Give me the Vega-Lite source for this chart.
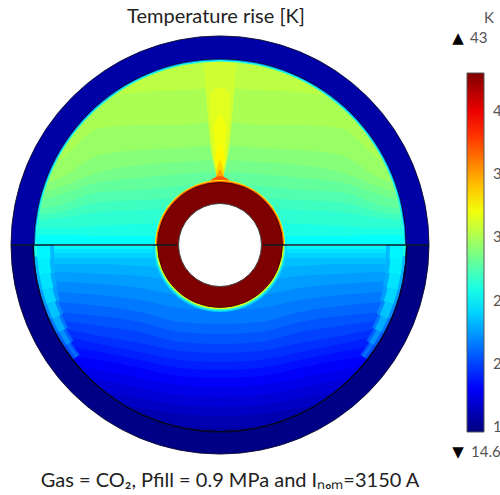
{"$schema":"https://vega.github.io/schema/vega-lite/v6.json","width":500,"height":495,"padding":0,"autosize":"none","background":"white","config":{"view":{"stroke":null},"legend":{"orient":"none"}},
"datasets":{
"up":[
{"v":25.3,"x":20,"y":245},{"v":25.3,"x":420,"y":245},
{"v":26,"x":20,"y":235},{"v":26,"x":60,"y":235},{"v":26,"x":100,"y":236},{"v":26,"x":140,"y":236},{"v":26,"x":180,"y":236},{"v":26,"x":220,"y":236},{"v":26,"x":260,"y":236},{"v":26,"x":300,"y":236},{"v":26,"x":340,"y":236},{"v":26,"x":380,"y":235},{"v":26,"x":420,"y":235},
{"v":26.5,"x":20,"y":228},{"v":26.5,"x":60,"y":228},{"v":26.5,"x":100,"y":226},{"v":26.5,"x":140,"y":224},{"v":26.5,"x":180,"y":222},{"v":26.5,"x":220,"y":222},{"v":26.5,"x":260,"y":222},{"v":26.5,"x":300,"y":224},{"v":26.5,"x":340,"y":226},{"v":26.5,"x":380,"y":228},{"v":26.5,"x":420,"y":228},
{"v":27,"x":20,"y":222},{"v":27,"x":60,"y":218},{"v":27,"x":100,"y":212},{"v":27,"x":140,"y":210},{"v":27,"x":180,"y":208},{"v":27,"x":220,"y":205},{"v":27,"x":260,"y":208},{"v":27,"x":300,"y":210},{"v":27,"x":340,"y":212},{"v":27,"x":380,"y":218},{"v":27,"x":420,"y":222},
{"v":27.5,"x":20,"y":217},{"v":27.5,"x":60,"y":212},{"v":27.5,"x":100,"y":202},{"v":27.5,"x":140,"y":200},{"v":27.5,"x":180,"y":198},{"v":27.5,"x":220,"y":195},{"v":27.5,"x":260,"y":198},{"v":27.5,"x":300,"y":200},{"v":27.5,"x":340,"y":202},{"v":27.5,"x":380,"y":212},{"v":27.5,"x":420,"y":217},
{"v":28,"x":20,"y":212},{"v":28,"x":60,"y":205},{"v":28,"x":100,"y":192},{"v":28,"x":140,"y":190},{"v":28,"x":180,"y":186},{"v":28,"x":220,"y":184},{"v":28,"x":260,"y":186},{"v":28,"x":300,"y":190},{"v":28,"x":340,"y":192},{"v":28,"x":380,"y":205},{"v":28,"x":420,"y":212},
{"v":28.5,"x":20,"y":207},{"v":28.5,"x":60,"y":195},{"v":28.5,"x":100,"y":182},{"v":28.5,"x":140,"y":178},{"v":28.5,"x":180,"y":174},{"v":28.5,"x":220,"y":172},{"v":28.5,"x":260,"y":174},{"v":28.5,"x":300,"y":178},{"v":28.5,"x":340,"y":182},{"v":28.5,"x":380,"y":195},{"v":28.5,"x":420,"y":207},
{"v":29,"x":20,"y":200},{"v":29,"x":60,"y":187},{"v":29,"x":100,"y":172},{"v":29,"x":140,"y":165},{"v":29,"x":180,"y":162},{"v":29,"x":220,"y":160},{"v":29,"x":260,"y":162},{"v":29,"x":300,"y":165},{"v":29,"x":340,"y":172},{"v":29,"x":380,"y":187},{"v":29,"x":420,"y":200},
{"v":29.5,"x":20,"y":190},{"v":29.5,"x":60,"y":178},{"v":29.5,"x":100,"y":155},{"v":29.5,"x":140,"y":150},{"v":29.5,"x":180,"y":148},{"v":29.5,"x":220,"y":145},{"v":29.5,"x":260,"y":148},{"v":29.5,"x":300,"y":150},{"v":29.5,"x":340,"y":155},{"v":29.5,"x":380,"y":178},{"v":29.5,"x":420,"y":190},
{"v":30,"x":20,"y":178},{"v":30,"x":60,"y":160},{"v":30,"x":100,"y":128},{"v":30,"x":140,"y":125},{"v":30,"x":180,"y":125},{"v":30,"x":220,"y":122},{"v":30,"x":260,"y":125},{"v":30,"x":300,"y":125},{"v":30,"x":340,"y":128},{"v":30,"x":380,"y":160},{"v":30,"x":420,"y":178},
{"v":30.5,"x":20,"y":160},{"v":30.5,"x":60,"y":125},{"v":30.5,"x":100,"y":100},{"v":30.5,"x":140,"y":92},{"v":30.5,"x":180,"y":90},{"v":30.5,"x":220,"y":88},{"v":30.5,"x":260,"y":90},{"v":30.5,"x":300,"y":92},{"v":30.5,"x":340,"y":100},{"v":30.5,"x":380,"y":125},{"v":30.5,"x":420,"y":160},
{"v":30.8,"x":20,"y":130},{"v":30.8,"x":60,"y":90},{"v":30.8,"x":100,"y":70},{"v":30.8,"x":140,"y":65},{"v":30.8,"x":180,"y":62},{"v":30.8,"x":220,"y":62},{"v":30.8,"x":260,"y":62},{"v":30.8,"x":300,"y":65},{"v":30.8,"x":340,"y":70},{"v":30.8,"x":380,"y":90},{"v":30.8,"x":420,"y":130}
],
"lo":[
{"v":25,"x":20,"y":246},{"v":25,"x":420,"y":246},
{"v":24.5,"x":20,"y":249},{"v":24.5,"x":420,"y":249},
{"v":24,"x":20,"y":253},{"v":24,"x":420,"y":253},
{"v":23.5,"x":20,"y":258},{"v":23.5,"x":420,"y":258},
{"v":23,"x":20,"y":264},{"v":23,"x":60,"y":264},{"v":23,"x":100,"y":264},{"v":23,"x":140,"y":266},{"v":23,"x":180,"y":268},{"v":23,"x":220,"y":268},{"v":23,"x":260,"y":268},{"v":23,"x":300,"y":266},{"v":23,"x":340,"y":264},{"v":23,"x":380,"y":264},{"v":23,"x":420,"y":264},
{"v":22.5,"x":20,"y":272},{"v":22.5,"x":60,"y":272},{"v":22.5,"x":100,"y":274},{"v":22.5,"x":140,"y":276},{"v":22.5,"x":180,"y":280},{"v":22.5,"x":220,"y":280},{"v":22.5,"x":260,"y":280},{"v":22.5,"x":300,"y":276},{"v":22.5,"x":340,"y":274},{"v":22.5,"x":380,"y":272},{"v":22.5,"x":420,"y":272},
{"v":22,"x":20,"y":280},{"v":22,"x":60,"y":282},{"v":22,"x":100,"y":284},{"v":22,"x":140,"y":288},{"v":22,"x":180,"y":295},{"v":22,"x":220,"y":296},{"v":22,"x":260,"y":295},{"v":22,"x":300,"y":288},{"v":22,"x":340,"y":284},{"v":22,"x":380,"y":282},{"v":22,"x":420,"y":280},
{"v":21.5,"x":20,"y":288},{"v":21.5,"x":60,"y":292},{"v":21.5,"x":100,"y":295},{"v":21.5,"x":140,"y":300},{"v":21.5,"x":180,"y":308},{"v":21.5,"x":220,"y":310},{"v":21.5,"x":260,"y":308},{"v":21.5,"x":300,"y":300},{"v":21.5,"x":340,"y":295},{"v":21.5,"x":380,"y":292},{"v":21.5,"x":420,"y":288},
{"v":21,"x":20,"y":296},{"v":21,"x":60,"y":302},{"v":21,"x":100,"y":306},{"v":21,"x":140,"y":312},{"v":21,"x":180,"y":322},{"v":21,"x":220,"y":324},{"v":21,"x":260,"y":322},{"v":21,"x":300,"y":312},{"v":21,"x":340,"y":306},{"v":21,"x":380,"y":302},{"v":21,"x":420,"y":296},
{"v":20.5,"x":20,"y":304},{"v":20.5,"x":60,"y":312},{"v":20.5,"x":100,"y":316},{"v":20.5,"x":140,"y":322},{"v":20.5,"x":180,"y":332},{"v":20.5,"x":220,"y":334},{"v":20.5,"x":260,"y":332},{"v":20.5,"x":300,"y":322},{"v":20.5,"x":340,"y":316},{"v":20.5,"x":380,"y":312},{"v":20.5,"x":420,"y":304},
{"v":20,"x":20,"y":312},{"v":20,"x":60,"y":320},{"v":20,"x":100,"y":326},{"v":20,"x":140,"y":332},{"v":20,"x":180,"y":342},{"v":20,"x":220,"y":344},{"v":20,"x":260,"y":342},{"v":20,"x":300,"y":332},{"v":20,"x":340,"y":326},{"v":20,"x":380,"y":320},{"v":20,"x":420,"y":312},
{"v":19.5,"x":20,"y":320},{"v":19.5,"x":60,"y":328},{"v":19.5,"x":100,"y":336},{"v":19.5,"x":140,"y":343},{"v":19.5,"x":180,"y":351},{"v":19.5,"x":220,"y":353},{"v":19.5,"x":260,"y":351},{"v":19.5,"x":300,"y":343},{"v":19.5,"x":340,"y":336},{"v":19.5,"x":380,"y":328},{"v":19.5,"x":420,"y":320},
{"v":19,"x":20,"y":330},{"v":19,"x":60,"y":336},{"v":19,"x":100,"y":344},{"v":19,"x":140,"y":352},{"v":19,"x":180,"y":360},{"v":19,"x":220,"y":362},{"v":19,"x":260,"y":360},{"v":19,"x":300,"y":352},{"v":19,"x":340,"y":344},{"v":19,"x":380,"y":336},{"v":19,"x":420,"y":330},
{"v":18.5,"x":20,"y":340},{"v":18.5,"x":60,"y":345},{"v":18.5,"x":100,"y":352},{"v":18.5,"x":140,"y":360},{"v":18.5,"x":180,"y":368},{"v":18.5,"x":220,"y":370},{"v":18.5,"x":260,"y":368},{"v":18.5,"x":300,"y":360},{"v":18.5,"x":340,"y":352},{"v":18.5,"x":380,"y":345},{"v":18.5,"x":420,"y":340},
{"v":18,"x":20,"y":350},{"v":18,"x":60,"y":355},{"v":18,"x":100,"y":360},{"v":18,"x":140,"y":368},{"v":18,"x":180,"y":376},{"v":18,"x":220,"y":378},{"v":18,"x":260,"y":376},{"v":18,"x":300,"y":368},{"v":18,"x":340,"y":360},{"v":18,"x":380,"y":355},{"v":18,"x":420,"y":350},
{"v":17.5,"x":20,"y":360},{"v":17.5,"x":60,"y":365},{"v":17.5,"x":100,"y":370},{"v":17.5,"x":140,"y":378},{"v":17.5,"x":180,"y":385},{"v":17.5,"x":220,"y":387},{"v":17.5,"x":260,"y":385},{"v":17.5,"x":300,"y":378},{"v":17.5,"x":340,"y":370},{"v":17.5,"x":380,"y":365},{"v":17.5,"x":420,"y":360},
{"v":17,"x":20,"y":370},{"v":17,"x":60,"y":375},{"v":17,"x":100,"y":380},{"v":17,"x":140,"y":388},{"v":17,"x":180,"y":395},{"v":17,"x":220,"y":397},{"v":17,"x":260,"y":395},{"v":17,"x":300,"y":388},{"v":17,"x":340,"y":380},{"v":17,"x":380,"y":375},{"v":17,"x":420,"y":370},
{"v":16.5,"x":20,"y":380},{"v":16.5,"x":60,"y":386},{"v":16.5,"x":100,"y":392},{"v":16.5,"x":140,"y":398},{"v":16.5,"x":180,"y":405},{"v":16.5,"x":220,"y":407},{"v":16.5,"x":260,"y":405},{"v":16.5,"x":300,"y":398},{"v":16.5,"x":340,"y":392},{"v":16.5,"x":380,"y":386},{"v":16.5,"x":420,"y":380},
{"v":16,"x":20,"y":392},{"v":16,"x":60,"y":398},{"v":16,"x":100,"y":403},{"v":16,"x":140,"y":408},{"v":16,"x":180,"y":414},{"v":16,"x":220,"y":416},{"v":16,"x":260,"y":414},{"v":16,"x":300,"y":408},{"v":16,"x":340,"y":403},{"v":16,"x":380,"y":398},{"v":16,"x":420,"y":392},
{"v":15.5,"x":20,"y":404},{"v":15.5,"x":60,"y":410},{"v":15.5,"x":100,"y":415},{"v":15.5,"x":140,"y":420},{"v":15.5,"x":180,"y":426},{"v":15.5,"x":220,"y":428},{"v":15.5,"x":260,"y":426},{"v":15.5,"x":300,"y":420},{"v":15.5,"x":340,"y":415},{"v":15.5,"x":380,"y":410},{"v":15.5,"x":420,"y":404}
],
"plume":[
{"v":31,"x":204,"y":62,"b":64},{"v":31,"x":210,"y":62,"b":140},{"v":31,"x":214,"y":62,"b":165},{"v":31,"x":220,"y":62,"b":180},{"v":31,"x":226,"y":62,"b":165},{"v":31,"x":230,"y":62,"b":140},{"v":31,"x":236,"y":62,"b":64},
{"v":31.5,"x":210,"y":95,"b":100},{"v":31.5,"x":214,"y":90,"b":160},{"v":31.5,"x":220,"y":88,"b":178},{"v":31.5,"x":226,"y":90,"b":160},{"v":31.5,"x":230,"y":95,"b":100},
{"v":32,"x":214,"y":125,"b":128},{"v":32,"x":217,"y":118,"b":165},{"v":32,"x":220,"y":115,"b":176},{"v":32,"x":223,"y":118,"b":165},{"v":32,"x":226,"y":125,"b":128},
{"v":32.5,"x":215,"y":158,"b":160},{"v":32.5,"x":218,"y":148,"b":172},{"v":32.5,"x":220,"y":145,"b":178},{"v":32.5,"x":222,"y":148,"b":172},{"v":32.5,"x":225,"y":158,"b":160},
{"v":33.5,"x":216,"y":172,"b":174},{"v":33.5,"x":218,"y":165,"b":178},{"v":33.5,"x":220,"y":160,"b":180},{"v":33.5,"x":222,"y":165,"b":178},{"v":33.5,"x":224,"y":172,"b":174},
{"v":35,"x":214,"y":180,"b":182},{"v":35,"x":217,"y":175,"b":183},{"v":35,"x":220,"y":170,"b":183},{"v":35,"x":223,"y":175,"b":183},{"v":35,"x":226,"y":180,"b":182},
{"v":37,"x":206,"y":184,"b":186},{"v":37,"x":214,"y":178,"b":186},{"v":37,"x":220,"y":176,"b":186},{"v":37,"x":226,"y":178,"b":186},{"v":37,"x":234,"y":184,"b":186}
],
"arcs":[
{"v":26,"a":-1.5708,"b":1.5708,"r":186,"s":183.5},
{"v":21,"a":-1.5708,"b":1.5708,"r":186,"s":185},
{"v":23.4,"a":4.629,"b":4.712,"r":186,"s":166},{"v":23.2,"a":4.546,"b":4.629,"r":186,"s":167},{"v":22.9,"a":4.463,"b":4.546,"r":186,"s":168},{"v":22.5,"a":4.381,"b":4.463,"r":186,"s":169},{"v":22,"a":4.298,"b":4.381,"r":186,"s":171},{"v":21.4,"a":4.215,"b":4.298,"r":186,"s":173},{"v":20.8,"a":4.133,"b":4.215,"r":186,"s":175},{"v":20.3,"a":4.05,"b":4.133,"r":186,"s":178},
{"v":23.4,"a":1.571,"b":1.654,"r":186,"s":166},{"v":23.2,"a":1.654,"b":1.737,"r":186,"s":167},{"v":22.9,"a":1.737,"b":1.82,"r":186,"s":168},{"v":22.5,"a":1.82,"b":1.902,"r":186,"s":169},{"v":22,"a":1.902,"b":1.985,"r":186,"s":171},{"v":21.4,"a":1.985,"b":2.068,"r":186,"s":173},{"v":20.8,"a":2.068,"b":2.15,"r":186,"s":175},{"v":20.3,"a":2.15,"b":2.233,"r":186,"s":178},
{"v":25,"a":4.629,"b":4.712,"r":183,"s":170},{"v":24.8,"a":4.546,"b":4.629,"r":183,"s":171},{"v":24.5,"a":4.463,"b":4.546,"r":183,"s":172},{"v":24.1,"a":4.381,"b":4.463,"r":183,"s":173},{"v":23.6,"a":4.298,"b":4.381,"r":183,"s":174.5},{"v":23,"a":4.215,"b":4.298,"r":183,"s":176},{"v":22.2,"a":4.133,"b":4.215,"r":183,"s":178},{"v":21.2,"a":4.05,"b":4.133,"r":183,"s":180},
{"v":25,"a":1.571,"b":1.654,"r":183,"s":170},{"v":24.8,"a":1.654,"b":1.737,"r":183,"s":171},{"v":24.5,"a":1.737,"b":1.82,"r":183,"s":172},{"v":24.1,"a":1.82,"b":1.902,"r":183,"s":173},{"v":23.6,"a":1.902,"b":1.985,"r":183,"s":174.5},{"v":23,"a":1.985,"b":2.068,"r":183,"s":176},{"v":22.2,"a":2.068,"b":2.15,"r":183,"s":178},{"v":21.2,"a":2.15,"b":2.233,"r":183,"s":180},
{"v":26,"a":4.65,"b":4.712,"r":186,"s":183},{"v":26,"a":1.571,"b":1.63,"r":186,"s":183},
{"v":24,"a":1.5708,"b":4.7124,"r":67,"s":0},{"v":27,"a":1.5708,"b":4.7124,"r":65.5,"s":0},{"v":32,"a":1.5708,"b":4.7124,"r":64,"s":0},
{"v":33,"a":-1.5708,"b":1.5708,"r":65,"s":0},{"v":37,"a":-1.5708,"b":1.5708,"r":64,"s":0},
{"v":43,"a":0,"b":6.2832,"r":62.5,"s":0}
],
"ring":[
{"v":15.7,"a":-1.5708,"b":1.5708,"r":209,"s":186},
{"v":14.8,"a":1.5708,"b":4.7124,"r":209,"s":186}
],
"edge":[{"a":1.5708,"b":4.7124,"r":187.5,"s":186},{"a":-1.5708,"b":1.5708,"r":186.5,"s":185.7}],
"centre":[{"cx":220,"cy":245}],
"lines":[{"x":11,"x2":177},{"x":263,"x2":429}],
"ticks":[
{"x":467,"x2":470,"y":111},{"x":481,"x2":484,"y":111},{"x":467,"x2":470,"y":173},{"x":481,"x2":484,"y":173},{"x":467,"x2":470,"y":237},{"x":481,"x2":484,"y":237},{"x":467,"x2":470,"y":300},{"x":481,"x2":484,"y":300},{"x":467,"x2":470,"y":363},{"x":481,"x2":484,"y":363},{"x":467,"x2":470,"y":427},{"x":481,"x2":484,"y":427}
],
"labels":[
{"x":484,"y":18,"t":"K"},{"x":470,"y":38,"t":"43"},{"x":471,"y":452,"t":"14.6"}
],
"tri":[{"x":458,"y":38,"t":"▲"},{"x":458,"y":452,"t":"▼"}],
"titles":[{"x":216,"y":17,"t":"Temperature rise [K]"},{"x":230,"y":481,"t":"Gas = CO₂, Pfill = 0.9 MPa and Iₙₒₘ=3150 A"}]
},
"layer":[
{"data":{"name":"up"},"mark":{"type":"area","interpolate":"monotone","opacity":1},
 "encoding":{"x":{"field":"x","type":"quantitative","axis":null,"scale":{"domain":[0,500],"range":[0,500],"nice":false,"zero":false}},
 "y":{"field":"y","type":"quantitative","axis":null,"stack":null,"scale":{"domain":[0,495],"range":[0,495],"nice":false,"zero":false}},
 "y2":{"datum":40},
 "color":{"field":"v","type":"quantitative","scale":{"domain":[14.6,18.15,25.25,32.35,39.45,43],"range":["#00007f","#0000ff","#00ffff","#ffff00","#ff0000","#7f0000"],"clamp":true,"interpolate":"rgb"},
 "legend":{"title":null,"orient":"none","legendX":467,"legendY":73,"gradientLength":359,"gradientThickness":17,"gradientStrokeColor":"#555555","gradientStrokeWidth":1,"values":[15,20,25,30,35,40],"labelFontSize":15,"labelColor":"#555555","labelOffset":9,"labelFont":"Lato","labelOverlap":false,"labelBaseline":"middle"}}}},
{"data":{"name":"lo"},"mark":{"type":"area","interpolate":"monotone","opacity":1},
 "encoding":{"x":{"field":"x","type":"quantitative"},"y":{"field":"y","type":"quantitative","stack":null},"y2":{"datum":450},"color":{"field":"v","type":"quantitative"}}},
{"data":{"name":"plume"},"mark":{"type":"area","interpolate":"monotone","opacity":1},
 "encoding":{"x":{"field":"x","type":"quantitative"},"y":{"field":"y","type":"quantitative","stack":null},"y2":{"field":"b"},"color":{"field":"v","type":"quantitative"}}},
{"data":{"name":"centre"},"mark":{"type":"point","shape":"circle","filled":false,"size":250000,"stroke":"white","strokeWidth":90,"opacity":1},
 "encoding":{"x":{"field":"cx","type":"quantitative"},"y":{"field":"cy","type":"quantitative"}}},
{"data":{"name":"arcs"},"mark":{"type":"arc","opacity":1},
 "encoding":{"x":{"datum":220},"y":{"datum":245},"theta":{"field":"a","type":"quantitative","scale":null},"theta2":{"field":"b"},"radius":{"field":"r","type":"quantitative","scale":null},"radius2":{"field":"s"},"color":{"field":"v","type":"quantitative"}}},
{"data":{"name":"ring"},"mark":{"type":"arc","opacity":1},
 "encoding":{"x":{"datum":220},"y":{"datum":245},"theta":{"field":"a","type":"quantitative","scale":null},"theta2":{"field":"b"},"radius":{"field":"r","type":"quantitative","scale":null},"radius2":{"field":"s"},"color":{"field":"v","type":"quantitative"}}},
{"data":{"name":"edge"},"mark":{"type":"arc","fill":"#050520","opacity":0.9},
 "encoding":{"x":{"datum":220},"y":{"datum":245},"theta":{"field":"a","type":"quantitative","scale":null},"theta2":{"field":"b"},"radius":{"field":"r","type":"quantitative","scale":null},"radius2":{"field":"s"}}},
{"data":{"name":"centre"},"mark":{"type":"point","shape":"circle","filled":false,"size":174724,"stroke":"#101030","strokeWidth":1,"opacity":0.9},
 "encoding":{"x":{"field":"cx","type":"quantitative"},"y":{"field":"cy","type":"quantitative"}}},
{"data":{"name":"centre"},"mark":{"type":"point","shape":"circle","filled":false,"size":15625,"stroke":"#300000","strokeWidth":1,"opacity":0.8},
 "encoding":{"x":{"field":"cx","type":"quantitative"},"y":{"field":"cy","type":"quantitative"}}},
{"data":{"name":"lines"},"mark":{"type":"rule","stroke":"#0a1a2a","strokeWidth":1.6},
 "encoding":{"x":{"field":"x","type":"quantitative"},"x2":{"field":"x2"},"y":{"datum":245}}},
{"data":{"name":"centre"},"mark":{"type":"point","shape":"circle","filled":true,"size":6889,"fill":"white","stroke":"#444444","strokeWidth":1,"opacity":1},
 "encoding":{"x":{"field":"cx","type":"quantitative"},"y":{"field":"cy","type":"quantitative"}}},
{"data":{"name":"ticks"},"mark":{"type":"rule","stroke":"#222222","strokeWidth":1},
 "encoding":{"x":{"field":"x","type":"quantitative"},"x2":{"field":"x2"},"y":{"field":"y","type":"quantitative"}}},
{"data":{"name":"labels"},"mark":{"type":"text","align":"left","font":"Lato","fontSize":15,"fill":"#555555","baseline":"middle"},
 "encoding":{"x":{"field":"x","type":"quantitative"},"y":{"field":"y","type":"quantitative"},"text":{"field":"t"}}},
{"data":{"name":"tri"},"mark":{"type":"text","align":"center","font":"DejaVu Sans","fontSize":15,"fill":"#000000","baseline":"middle"},
 "encoding":{"x":{"field":"x","type":"quantitative"},"y":{"field":"y","type":"quantitative"},"text":{"field":"t"}}},
{"data":{"name":"titles"},"mark":{"type":"text","align":"center","font":"Lato","fontSize":20,"fill":"#222222","baseline":"middle"},
 "encoding":{"x":{"field":"x","type":"quantitative"},"y":{"field":"y","type":"quantitative"},"text":{"field":"t"}}}
]}
